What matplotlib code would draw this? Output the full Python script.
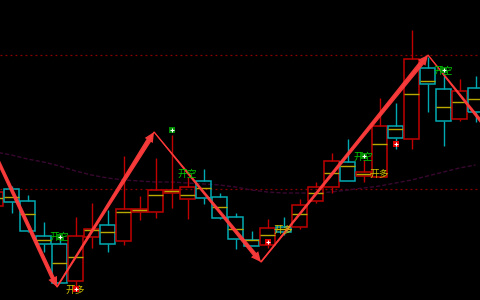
import numpy as np
import matplotlib
matplotlib.use("Agg")
import matplotlib.pyplot as plt
from matplotlib.patches import Rectangle, Polygon
from matplotlib.transforms import IdentityTransform

plt.rcParams['font.family'] = ['Noto Sans CJK SC', 'DejaVu Sans']

# ---------------- data ----------------
opens  = [94, 111, 99, 64, 56, 19, 63, 75, 59, 88, 88, 107, 101, 119, 103, 83,
          60, 55, 73, 73, 99, 113, 138, 124, 123, 174, 161, 232, 211, 181, 212]
highs  = [114, 114, 105, 78, 66, 83, 97, 90, 144, 104, 142, 165, 123, 131, 107, 87,
          69, 81, 83, 101, 118, 147, 161, 140, 202, 197, 270, 243, 227, 221, 224]
lows   = [90, 87, 68, 48, 17, 13, 52, 48, 55, 80, 82, 92, 81, 96, 81, 51,
          54, 52, 65, 71, 97, 107, 119, 118, 123, 151, 151, 188, 154, 179, 178]
closes = [108, 98, 69, 56, 17, 64, 71, 56, 91, 91, 110, 110, 113, 102, 82, 61,
          54, 72, 68, 95, 113, 139, 119, 128, 174, 162, 241, 216, 179, 209, 188]
mids   = [102, 103, 86, 60, 37, 43, 70, 68, 88, 90, 105, 109, 105, 112, 93, 71,
          60, 65, 71, 86, 107, 127, 134, 126, 156, 171, 206, 219, 193, 198, 201]
ma     = [148, 145, 141, 138, 134, 129, 125, 122, 120, 119, 118, 118, 117, 116, 115, 113,
          110, 108, 107, 107, 107, 108, 110, 112, 114, 117, 120, 124, 128, 132, 135]

levels = [245, 111]

zigzag_x = [-0.97, 3.84, 9.91, 16.59, 27.03, 31.53]
zigzag_y = [178, 13, 168, 38, 245, 155]

short_label_idx = [4, 12, 23, 28]
short_label_val = [63, 126, 143, 229]
short_mark_idx = [4, 11, 23, 28]
short_mark_val = [63, 170, 144, 230]

long_label_idx = [5, 18, 24]
long_label_val = [10, 70, 126]
long_mark_idx = [5, 17, 25]
long_mark_val = [11, 58, 156]

# ---------------- figure ----------------
fig = plt.figure(figsize=(4.8, 3.0), dpi=100, facecolor='black')
ax = fig.add_axes([0, 0, 1, 1])
ax.set_facecolor('black')
ax.set_xlim(0.28125, 30.28125)
ax.set_ylim(0, 300)
ax.axis('off')

RED = '#c00000'
CYAN = '#00aab4'
YEL = '#b8a800'
w = 0.88

for lv in levels:
    ax.axhline(lv, color='#8c0000', lw=0.9, ls=(0, (1.5, 2.5)), zorder=1)

ax.plot(np.arange(len(ma)), ma, color='#380830', lw=1.0, ls=(0, (3, 1.5)), zorder=1)

for i, (o, h, l, c, m) in enumerate(zip(opens, highs, lows, closes, mids)):
    col = RED if c >= o else CYAN
    top, bot = max(o, c), min(o, c)
    ax.vlines(i, top, h, color=col, lw=1, zorder=2)
    ax.vlines(i, l, bot, color=col, lw=1, zorder=2)
    ax.add_patch(Rectangle((i - w / 2, bot), w, max(top - bot, 0.5), fill=False,
                           edgecolor=col, lw=1.1, zorder=3))
    ax.hlines(m, i - w / 2, i + w / 2, color=YEL, lw=1.0, zorder=3)

# zigzag thin line
ax.plot(zigzag_x, zigzag_y, color='#d02020', lw=0.9, zorder=5)

fig.canvas.draw()
pts = ax.transData.transform(np.column_stack([zigzag_x, zigzag_y]))
widths = [(3.4, 4.2), (1.6, 5.2), (1.0, 4.4), (1.6, 5.2), (1.0, 4.0)]
head_len, head_w = 10.0, 9.5
for k in range(len(pts) - 1):
    A, B = pts[k], pts[k + 1]
    d = B - A
    L = np.hypot(*d)
    u = d / L
    n = np.array([-u[1], u[0]])
    S = B - u * head_len
    w0, w1 = widths[k]
    poly = [A + n * w0 / 2, S + n * w1 / 2, S + n * head_w / 2, B,
            S - n * head_w / 2, S - n * w1 / 2, A - n * w0 / 2]
    ax.add_patch(Polygon(poly, closed=True, transform=IdentityTransform(),
                         facecolor='#ff3c3c', edgecolor='none', alpha=0.95, zorder=6))

for i, v in zip(short_label_idx, short_label_val):
    ax.text(i, v, '开空', color='#00c800', fontsize=7, ha='center', va='center', zorder=7)
for i, v in zip(long_label_idx, long_label_val):
    ax.text(i, v, '开多', color='#d0c000', fontsize=7, ha='center', va='center', zorder=7)

ax.scatter(short_mark_idx, short_mark_val, marker='s', s=22, color='#008c00', zorder=8, linewidths=0)
ax.scatter(short_mark_idx, short_mark_val, marker='+', s=10, color='white', zorder=9, linewidths=0.8)
ax.scatter(long_mark_idx, long_mark_val, marker='s', s=22, color='#e00000', zorder=8, linewidths=0)
ax.scatter(long_mark_idx, long_mark_val, marker='+', s=10, color='white', zorder=9, linewidths=0.8)

fig.savefig('out.png', dpi=100, facecolor='black')
